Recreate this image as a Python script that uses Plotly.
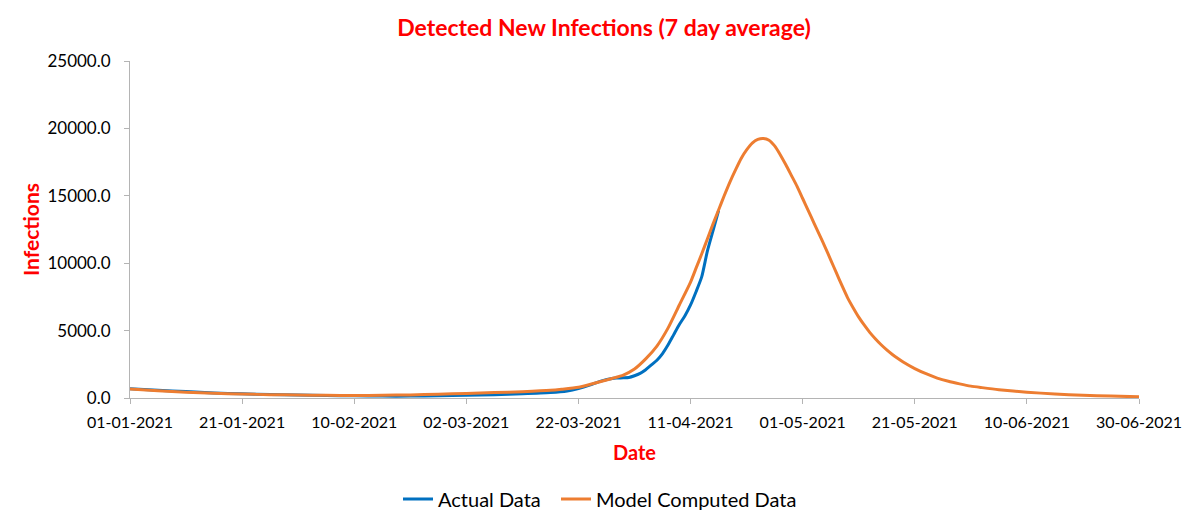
import plotly.graph_objects as go
import pandas as pd

start = pd.Timestamp("2021-01-01")

# Model computed data (day offset from 01-01-2021, value)
model_days = [0, 5, 10, 15, 20, 25, 30, 35, 40, 45, 50, 55, 60, 65, 70, 75, 77, 80, 82, 84, 86, 88,
              90, 92, 94, 96, 98, 100, 101, 102, 103, 104, 105, 106, 107, 108, 109, 110, 111, 112, 113,
              114, 115, 116, 117, 118, 119, 120, 121, 122, 123, 124, 125, 126, 127, 128, 129, 130,
              131, 132, 133, 134, 135, 136, 137, 138, 140, 142, 144, 146, 148, 150, 152, 155, 160,
              165, 170, 175, 180]
model_vals = [670, 540, 430, 350, 290, 250, 220, 200, 190, 200, 230, 280, 340, 400, 470, 570, 650, 800, 1000, 1220, 1450, 1700,
              2150, 2900, 3850, 5200, 6900, 8600, 9650, 10700, 11800, 12900, 13950, 15000, 16000, 16900, 17750, 18400, 18900, 19180, 19250,
              19120, 18700, 18050, 17300, 16500, 15700, 14800, 13900, 13000, 12100, 11200, 10250, 9300, 8350, 7450, 6700, 6000,
              5400, 4850, 4380, 3950, 3570, 3230, 2930, 2650, 2180, 1800, 1480, 1240, 1050, 880, 770, 620, 430,
              300, 200, 140, 90]

# Actual data
actual_days = [0, 5, 10, 15, 20, 25, 30, 35, 40, 45, 50, 55, 60, 65, 70, 75, 78, 80, 82, 84, 86, 87, 88, 89,
               90, 91, 92, 93, 94, 95, 96, 97, 98, 99, 100, 101, 102, 103, 104, 105]
actual_vals = [680, 570, 480, 380, 310, 260, 220, 190, 160, 140, 140, 160, 200, 250, 310, 400, 520, 700, 950, 1250, 1450, 1480, 1500, 1520,
               1650, 1830, 2100, 2450, 2800, 3300, 3950, 4700, 5450, 6100, 6900, 7900, 9000, 10900, 12400, 13900]

model_dates = [start + pd.Timedelta(days=d) for d in model_days]
actual_dates = [start + pd.Timedelta(days=d) for d in actual_days]

FONT = "Lato"
RED = "#FF0000"
AXIS = "#B4B4B4"

# page has an 8px body margin, so the figure is 8px smaller than the window
W, H = 1192, 518

fig = go.Figure()
fig.add_trace(go.Scatter(x=actual_dates, y=actual_vals, mode="lines", name="Actual Data", legendwidth=113,
                         line=dict(color="#0070C0", width=3, shape="spline", smoothing=0.6)))
fig.add_trace(go.Scatter(x=model_dates, y=model_vals, mode="lines", name="Model Computed Data",
                         line=dict(color="#ED7D31", width=3, shape="spline", smoothing=0.6)))

fig.update_layout(
    template="none",
    width=W, height=H,
    margin=dict(l=122, r=61, t=53, b=128, autoexpand=False),
    paper_bgcolor="white", plot_bgcolor="white",
    font=dict(family=FONT, size=16, color="black"),
    title=dict(text="<b>Detected New Infections (7 day average)</b>", x=0.5, xanchor="center",
               y=1 - 20 / H, yanchor="middle", font=dict(family=FONT, size=23, color=RED)),
    showlegend=True,
    legend=dict(orientation="h", x=(592 - 122) / 1009, xanchor="center", y=-0.300, yanchor="middle",
                font=dict(family=FONT, size=20, color="black"), itemwidth=30),
    xaxis=dict(type="date", range=["2021-01-01", "2021-06-30"], tick0="2021-01-01", dtick=20 * 86400000,
               tickformat="%d-%m-%Y", showgrid=False, zeroline=False, showline=True, linecolor=AXIS, linewidth=1,
               ticks="outside", ticklen=5, tickcolor=AXIS, tickfont=dict(size=16), automargin=False,
               ticklabelstandoff=5,
               title=dict(text="<b>Date</b>", font=dict(family=FONT, size=20, color=RED), standoff=15)),
    yaxis=dict(range=[0, 25000], dtick=5000, tickformat=".1f", showgrid=False, zeroline=False,
               showline=True, linecolor=AXIS, linewidth=1, ticks="outside", ticklen=5, tickcolor=AXIS,
               tickfont=dict(size=17), automargin=False, ticklabelstandoff=10,
               title=dict(text="<b>Infections</b>", font=dict(family=FONT, size=21, color=RED), standoff=2)),
)

fig.write_html("out.html")
